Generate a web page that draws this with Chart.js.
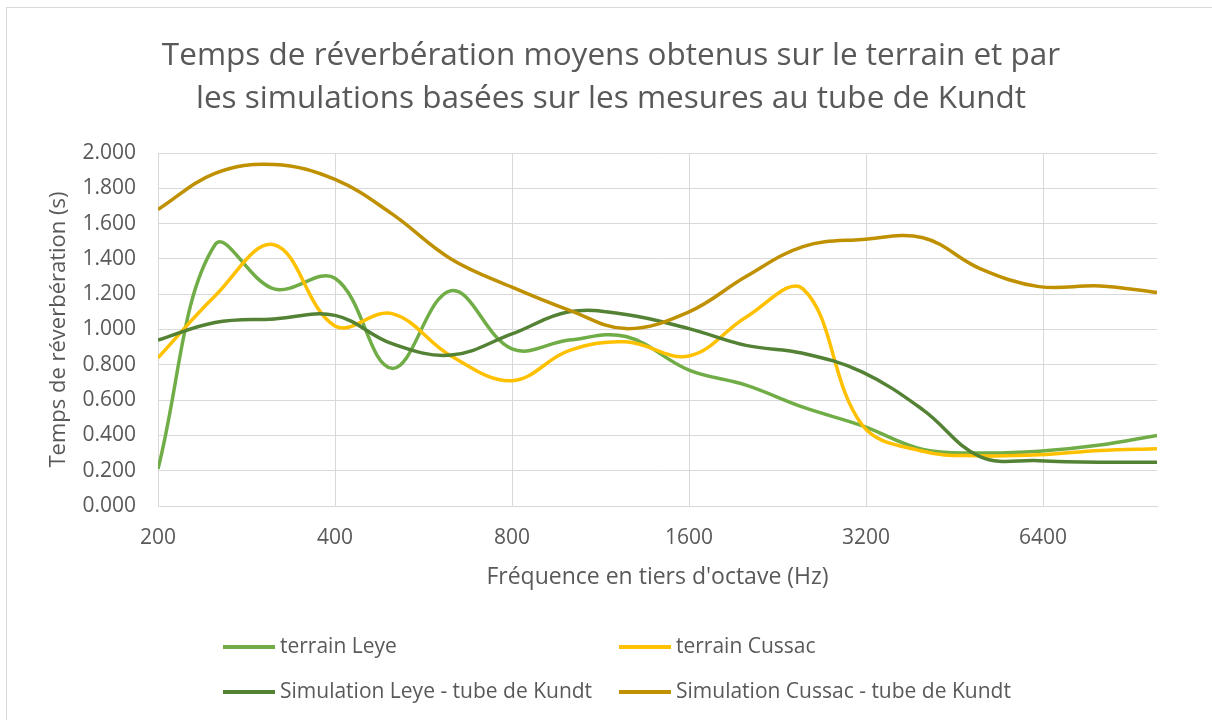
<!DOCTYPE html>
<html lang="fr">
<head>
<meta charset="utf-8">
<title>Temps de réverbération</title>
<script src="https://cdn.jsdelivr.net/npm/chart.js@4/dist/chart.umd.min.js"></script>
<style>
  html, body { margin: 0; padding: 0; background: #fff; }
  #wrap { position: relative; width: 1212px; height: 720px; }
</style>
</head>
<body>
<div id="wrap"><canvas id="rtChart" width="1212" height="720"></canvas></div>
<script>
// Fréquences centrales des tiers d'octave (Hz)
const frequencies = [200, 250, 315, 400, 500, 630, 800, 1000, 1250, 1600, 2000, 2500, 3150, 4000, 5000, 6300, 8000, 10000];

// Temps de réverbération moyens (s)
const terrainLeye = [0.21, 1.48, 1.23, 1.29, 0.78, 1.22, 0.89, 0.94, 0.96, 0.77, 0.685, 0.56, 0.455, 0.32, 0.30, 0.31, 0.345, 0.40];
const terrainCussac = [0.84, 1.19, 1.48, 1.02, 1.09, 0.85, 0.71, 0.88, 0.93, 0.85, 1.07, 1.23, 0.46, 0.31, 0.285, 0.29, 0.315, 0.325];
const simLeye = [0.94, 1.04, 1.06, 1.08, 0.92, 0.855, 0.975, 1.10, 1.085, 1.005, 0.91, 0.865, 0.76, 0.545, 0.28, 0.257, 0.248, 0.248];
const simCussac = [1.68, 1.885, 1.935, 1.85, 1.655, 1.40, 1.24, 1.11, 1.005, 1.10, 1.30, 1.47, 1.51, 1.52, 1.345, 1.243, 1.247, 1.21];

const xTicks = [200, 400, 800, 1600, 3200, 6400];

const seriesNames = ['terrain Leye', 'terrain Cussac', 'Simulation Leye - tube de Kundt', 'Simulation Cussac - tube de Kundt'];
const seriesColors = ['#70AD47', '#FFC000', '#548235', '#BF9000'];
const seriesValues = [terrainLeye, terrainCussac, simLeye, simCussac];

const TEXT = '#595959';
const GRID = '#D9D9D9';
const FONT = '"Open Sans", "Noto Sans", sans-serif';

const titleLines = [
  'Temps de réverbération moyens obtenus sur le terrain et par',
  'les simulations basées sur les mesures au tube de Kundt'
];

function toPoints(values) {
  return values.map((v, i) => ({ x: frequencies[i], y: v }));
}

// Cadre, titre et légende dessinés à la main (légende sur deux colonnes)
const decorations = {
  id: 'decorations',
  beforeDraw(chart) {
    const ctx = chart.ctx;
    ctx.save();
    ctx.strokeStyle = GRID;
    ctx.lineWidth = 1;
    ctx.strokeRect(6.5, 7.5, 1400, 900);
    ctx.restore();
  },
  afterDraw(chart) {
    const ctx = chart.ctx;
    ctx.save();
    ctx.fillStyle = TEXT;
    ctx.textAlign = 'center';
    ctx.textBaseline = 'alphabetic';
    ctx.font = '31.5px ' + FONT;
    ctx.fillText(titleLines[0], 611, 65);
    ctx.fillText(titleLines[1], 611, 108);

    const cols = [223, 619];
    const rows = [647, 692];
    ctx.textAlign = 'left';
    ctx.textBaseline = 'middle';
    ctx.font = '21px ' + FONT;
    chart.data.datasets.forEach((ds, i) => {
      const x = cols[i % 2];
      const y = rows[Math.floor(i / 2)];
      ctx.strokeStyle = ds.borderColor;
      ctx.lineWidth = 4;
      ctx.beginPath();
      ctx.moveTo(x, y);
      ctx.lineTo(x + 52, y);
      ctx.stroke();
      ctx.fillStyle = TEXT;
      ctx.fillText(ds.label, x + 57, y);
    });
    ctx.restore();
  }
};

const datasets = seriesValues.map((values, i) => ({
  label: seriesNames[i],
  data: toPoints(values),
  borderColor: seriesColors[i],
  backgroundColor: seriesColors[i],
  borderWidth: 3.5,
  pointRadius: 0,
  tension: 0.38,
  fill: false,
  order: seriesValues.length - i
}));

new Chart(document.getElementById('rtChart'), {
  type: 'line',
  data: { datasets },
  options: {
    responsive: false,
    animation: false,
    events: [],
    layout: { padding: { top: 153, right: 55, bottom: 0, left: 0 } },
    plugins: {
      legend: { display: false },
      title: { display: false },
      tooltip: { enabled: false }
    },
    scales: {
      x: {
        type: 'logarithmic',
        min: 200,
        max: 10000,
        afterBuildTicks(scale) {
          scale.ticks = xTicks.map(v => ({ value: v }));
        },
        afterFit(scale) {
          scale.height = 214;
        },
        ticks: {
          autoSkip: false,
          maxRotation: 0,
          padding: 19,
          color: TEXT,
          font: { family: FONT, size: 21 },
          callback: value => String(value)
        },
        grid: { color: GRID, lineWidth: 1, drawTicks: false },
        border: { color: GRID, width: 1 },
        title: {
          display: true,
          text: "Fréquence en tiers d'octave (Hz)",
          color: TEXT,
          font: { family: FONT, size: 23 },
          padding: { top: 0, bottom: 129 }
        }
      },
      y: {
        min: 0,
        max: 2,
        afterFit(scale) {
          scale.width = 158;
        },
        ticks: {
          stepSize: 0.2,
          padding: 22,
          color: TEXT,
          font: { family: FONT, size: 21 },
          callback: value => Number(value).toFixed(3)
        },
        grid: { color: GRID, lineWidth: 1, drawTicks: false },
        border: { display: false },
        title: {
          display: true,
          text: 'Temps de réverbération (s)',
          color: TEXT,
          font: { family: FONT, size: 22 },
          padding: { top: 46, bottom: 0 }
        }
      }
    }
  },
  plugins: [decorations]
});
</script>
</body>
</html>
